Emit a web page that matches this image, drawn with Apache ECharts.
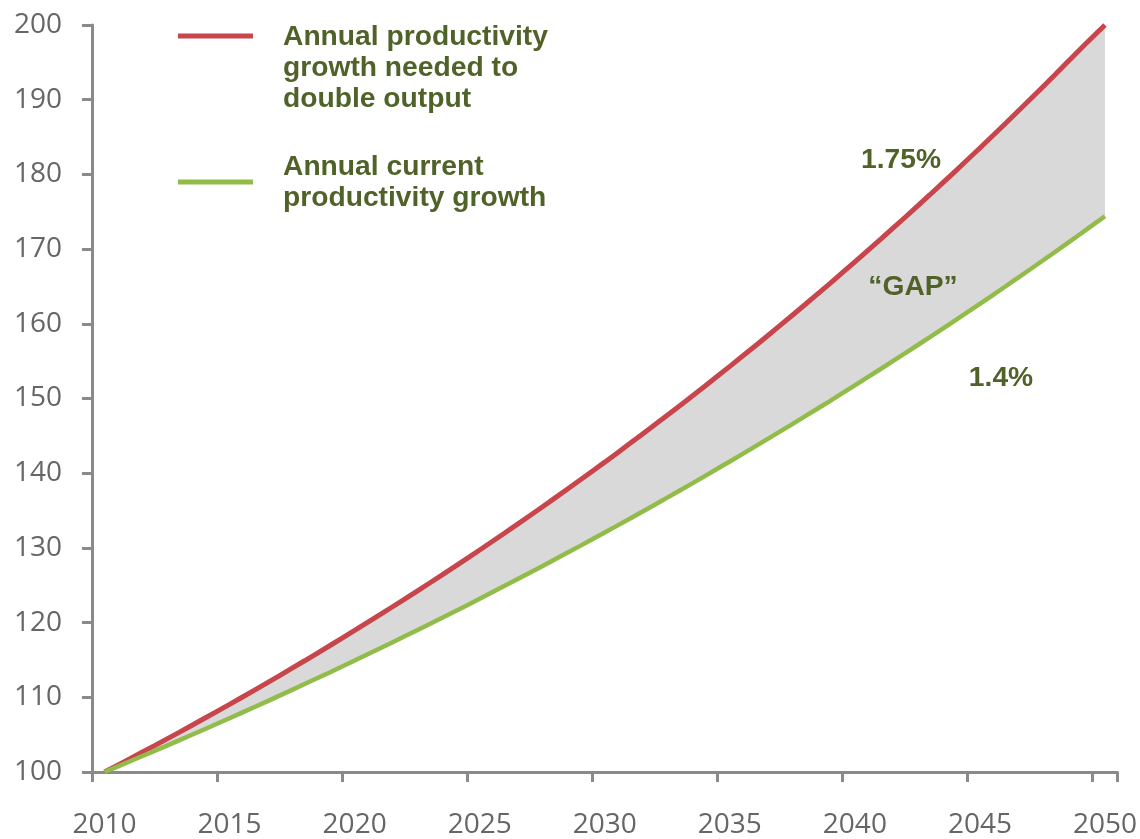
<!DOCTYPE html>
<html>
<head>
<meta charset="utf-8">
<script src="https://cdn.jsdelivr.net/npm/echarts@6/dist/echarts.min.js"></script>
<style>
html,body{margin:0;padding:0;background:#fff;}
#chart{width:1140px;height:839px;}
</style>
</head>
<body>
<div id="chart"></div>
<script>
// Years (categories)
var years = [];
for (var yr = 2010; yr <= 2050; yr++) { years.push(String(yr)); }

// Index level, 1.75% annual productivity growth needed to double output
var neededGrowth = [100.00, 101.75, 103.53, 105.34, 107.19, 109.06, 110.97, 112.91, 114.89, 116.90,
  118.95, 121.03, 123.15, 125.30, 127.49, 129.72, 132.00, 134.31, 136.66, 139.05,
  141.48, 143.96, 146.48, 149.04, 151.65, 154.30, 157.00, 159.75, 162.55, 165.39,
  168.29, 171.23, 174.23, 177.28, 180.38, 183.54, 186.75, 190.02, 193.34, 196.73, 200.00];

// Index level, 1.4% annual current productivity growth
var currentGrowth = [100.00, 101.40, 102.82, 104.26, 105.72, 107.20, 108.70, 110.22, 111.77, 113.33,
  114.92, 116.53, 118.16, 119.81, 121.49, 123.19, 124.92, 126.67, 128.44, 130.24,
  132.06, 133.91, 135.78, 137.68, 139.61, 141.57, 143.55, 145.56, 147.60, 149.66,
  151.76, 153.88, 156.04, 158.22, 160.44, 162.68, 164.96, 167.27, 169.61, 171.99, 174.40];

var yTicks = { min: 100, max: 200, interval: 10 };

var gap = neededGrowth.map(function (v, i) { return +(v - currentGrowth[i]).toFixed(2); });

var RED = '#C8454B';
var GREEN = '#92BC4A';
var TEXT = '#4F6228';
var AXIS = '#8A8A8A';
var LABEL = '#666666';
var FONT = '"Open Sans", "Liberation Sans", sans-serif';
var BOLD = 'bold 27px "Liberation Sans", Arial, sans-serif';
var SX = 1.045;

var chart = echarts.init(document.getElementById('chart'), null, { renderer: 'canvas' });

chart.setOption({
  animation: false,
  backgroundColor: '#ffffff',
  grid: { left: 92, right: 22, top: 25, bottom: 66, containLabel: false },
  xAxis: {
    type: 'category',
    data: years,
    boundaryGap: true,
    axisLine: { show: true, lineStyle: { color: AXIS, width: 3 } },
    axisTick: { show: true, interval: 4, length: 10, lineStyle: { color: AXIS, width: 3 } },
    axisLabel: { interval: 4, color: LABEL, fontSize: 28, fontFamily: FONT, margin: 39 },
    splitLine: { show: false }
  },
  yAxis: {
    type: 'value',
    min: yTicks.min,
    max: yTicks.max,
    interval: yTicks.interval,
    axisLine: { show: true, lineStyle: { color: AXIS, width: 3 } },
    axisTick: { show: true, inside: false, length: 10, lineStyle: { color: AXIS, width: 3 } },
    axisLabel: { color: LABEL, fontSize: 28, fontFamily: FONT, margin: 30 },
    splitLine: { show: false }
  },
  series: [
    {
      name: 'base',
      type: 'line',
      stack: 'gap',
      data: currentGrowth,
      symbol: 'none',
      smooth: 0.3,
      silent: true,
      lineStyle: { width: 0, opacity: 0 },
      z: 1
    },
    {
      name: 'GAP',
      type: 'line',
      stack: 'gap',
      data: gap,
      symbol: 'none',
      smooth: 0.3,
      silent: true,
      lineStyle: { width: 0, opacity: 0 },
      areaStyle: { color: '#D9D9D9', opacity: 1 },
      z: 1
    },
    {
      name: 'Annual productivity growth needed to double output',
      type: 'line',
      data: neededGrowth,
      symbol: 'none',
      smooth: 0.3,
      lineStyle: { color: RED, width: 5 },
      z: 3
    },
    {
      name: 'Annual current productivity growth',
      type: 'line',
      data: currentGrowth,
      symbol: 'none',
      smooth: 0.3,
      lineStyle: { color: GREEN, width: 4.5 },
      z: 3
    }
  ],
  graphic: [
    { type: 'line', shape: { x1: 178, y1: 36, x2: 253, y2: 36 }, style: { stroke: RED, lineWidth: 5 } },
    { type: 'line', shape: { x1: 178, y1: 182, x2: 253, y2: 182 }, style: { stroke: GREEN, lineWidth: 5 } },
    { type: 'text', x: 283, y: 22, scaleX: SX, style: { text: 'Annual productivity\ngrowth needed to\ndouble output', font: BOLD, fill: TEXT, lineHeight: 31, align: 'left', verticalAlign: 'top' } },
    { type: 'text', x: 283, y: 152, scaleX: SX, style: { text: 'Annual current\nproductivity growth', font: BOLD, fill: TEXT, lineHeight: 31, align: 'left', verticalAlign: 'top' } },
    { type: 'text', x: 901, y: 161, scaleX: SX, style: { text: '1.75%', font: BOLD, fill: TEXT, align: 'center', verticalAlign: 'middle' }, z: 10 },
    { type: 'text', x: 913, y: 288, scaleX: SX, style: { text: '\u201CGAP\u201D', font: BOLD, fill: TEXT, align: 'center', verticalAlign: 'middle' }, z: 10 },
    { type: 'text', x: 1001, y: 379, scaleX: SX, style: { text: '1.4%', font: BOLD, fill: TEXT, align: 'center', verticalAlign: 'middle' }, z: 10 }
  ]
});
</script>
</body>
</html>
